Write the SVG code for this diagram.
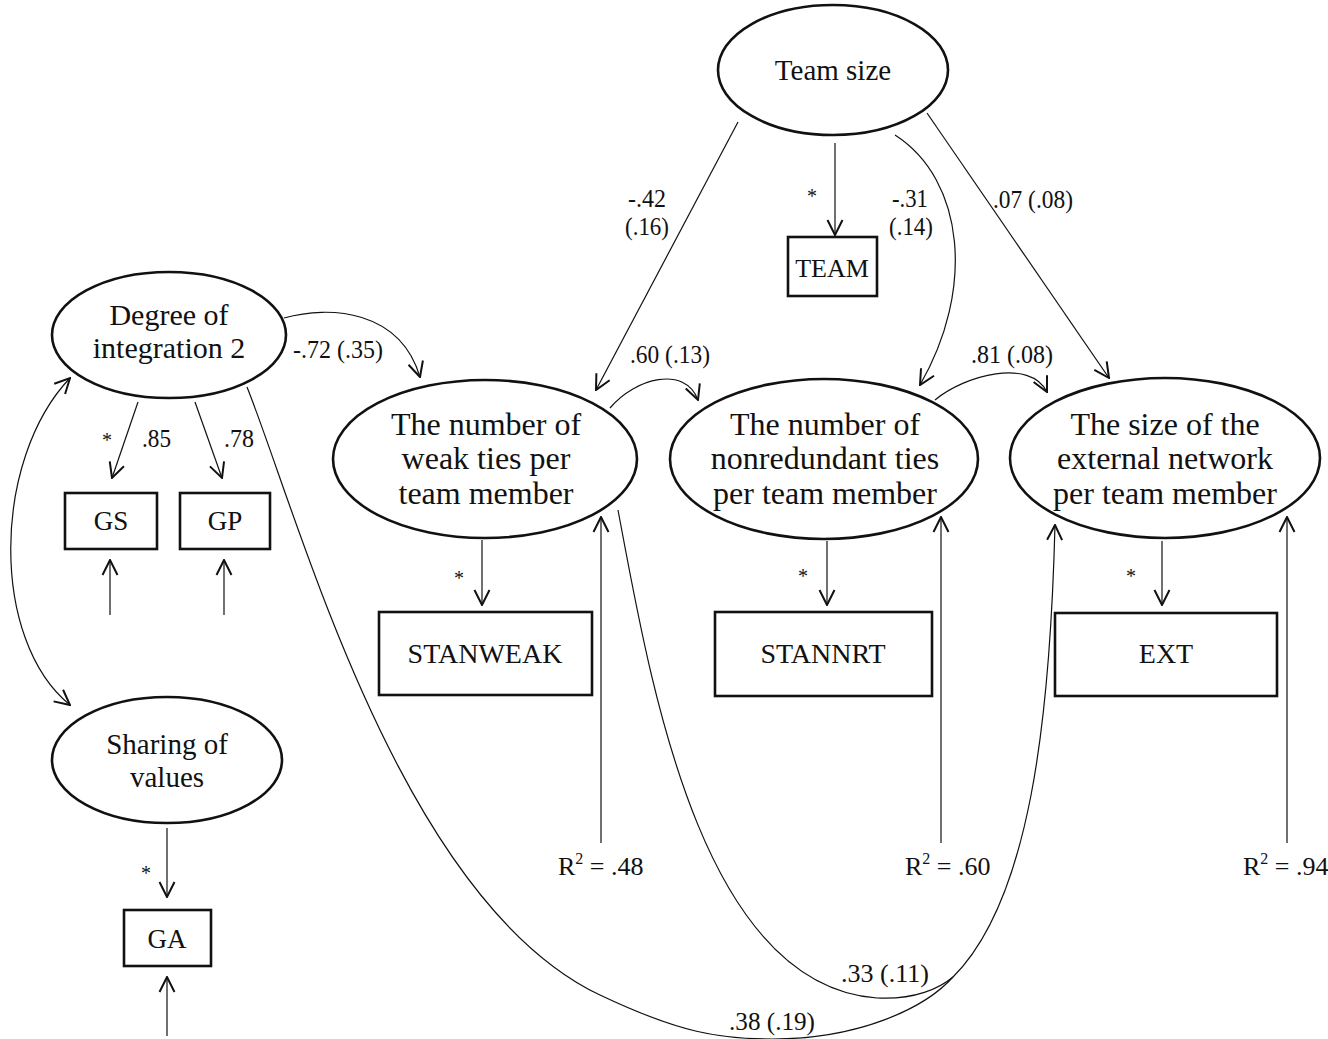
<svg xmlns="http://www.w3.org/2000/svg" width="1328" height="1039" viewBox="0 0 1328 1039">
<defs>
<style>
.nd{fill:#fff;stroke:#111;stroke-width:2.6}
.t{font-family:"Liberation Serif","Times New Roman",serif;fill:#111;text-anchor:middle}
.lab{font-family:"Liberation Serif","Times New Roman",serif;fill:#111;font-size:26px}
.ast{font-family:"Liberation Serif","Times New Roman",serif;fill:#111;font-size:20px;text-anchor:middle}
.c{fill:none;stroke:#111;stroke-width:1.2}
.a{marker-end:url(#ah)}
</style>
<marker id="ah" viewBox="0 0 18 18" refX="17" refY="9" markerWidth="18" markerHeight="18" markerUnits="userSpaceOnUse" orient="auto-start-reverse">
<path d="M2,1.5 L17,9 L2,16.5" fill="none" stroke="#111" stroke-width="2"/>
</marker>
</defs>
<rect width="1328" height="1039" fill="#fff"/>

<g id="connectors">
<path class="c a" d="M835,143 L835,235"/>
<path class="c a" d="M738,122 L596,390"/>
<path class="c a" d="M895,135 C965,180 975,290 920,385"/>
<path class="c a" d="M927,113 L1109,378"/>
<path class="c a" d="M284,318 C330,305 400,310 420,377"/>
<path class="c a" d="M610,408 C635,378 685,365 698,400"/>
<path class="c a" d="M935,400 C965,375 1030,358 1047,392"/>
<path class="c" d="M70,378 C-8,460 -10,640 70,705" marker-start="url(#ah)" marker-end="url(#ah)"/>
<path class="c a" d="M138,402 L112,478"/>
<path class="c a" d="M195,402 L222,478"/>
<path class="c a" d="M110,615 L110,560"/>
<path class="c a" d="M224,615 L224,560"/>
<path class="c a" d="M167,828 L167,897"/>
<path class="c a" d="M167,1036 L167,977"/>
<path class="c a" d="M482,540 L482,605"/>
<path class="c a" d="M827,541 L827,605"/>
<path class="c a" d="M1162,541 L1162,605"/>
<path class="c a" d="M601,843 L601,517"/>
<path class="c a" d="M941,843 L941,517"/>
<path class="c a" d="M1287,843 L1287,517"/>
<path class="c a" d="M247,387 C300,520 400,900 600,995 C680,1033 720,1039 772,1039 C860,1039 925,1008 953,977 C1030,900 1050,720 1055,525"/>
<path class="c" d="M618,510 C650,680 700,985 877,998 C915,1000 940,988 953,977"/>
</g>

<g id="labels">
<text class="lab" x="628" y="207" textLength="38" lengthAdjust="spacingAndGlyphs">-.42</text>
<text class="lab" x="625" y="235" textLength="44" lengthAdjust="spacingAndGlyphs">(.16)</text>
<text class="lab" x="892" y="207" textLength="36" lengthAdjust="spacingAndGlyphs">-.31</text>
<text class="lab" x="889" y="235" textLength="44" lengthAdjust="spacingAndGlyphs">(.14)</text>
<text class="lab" x="993" y="208" textLength="80" lengthAdjust="spacingAndGlyphs">.07 (.08)</text>
<text class="lab" x="293" y="358" textLength="90" lengthAdjust="spacingAndGlyphs">-.72 (.35)</text>
<text class="lab" x="630" y="363" textLength="80" lengthAdjust="spacingAndGlyphs">.60 (.13)</text>
<text class="lab" x="971" y="363" textLength="82" lengthAdjust="spacingAndGlyphs">.81 (.08)</text>
<text class="lab" x="142" y="447" textLength="29" lengthAdjust="spacingAndGlyphs">.85</text>
<text class="lab" x="224" y="447" textLength="30" lengthAdjust="spacingAndGlyphs">.78</text>
<text class="lab" x="841" y="982" textLength="88" lengthAdjust="spacingAndGlyphs">.33  (.11)</text>
<text class="lab" x="729" y="1030" textLength="86" lengthAdjust="spacingAndGlyphs">.38  (.19)</text>
<text class="lab" x="558" y="875">R<tspan dy="-11" font-size="16">2</tspan><tspan dy="11"> = .48</tspan></text>
<text class="lab" x="905" y="875">R<tspan dy="-11" font-size="16">2</tspan><tspan dy="11"> = .60</tspan></text>
<text class="lab" x="1243" y="875">R<tspan dy="-11" font-size="16">2</tspan><tspan dy="11"> = .94</tspan></text>
<text class="ast" x="812" y="203">*</text>
<text class="ast" x="107" y="447">*</text>
<text class="ast" x="459" y="585">*</text>
<text class="ast" x="803" y="583">*</text>
<text class="ast" x="1131" y="583">*</text>
<text class="ast" x="146" y="880">*</text>
</g>

<g id="n-teamsize">
<ellipse class="nd" cx="833" cy="70" rx="115" ry="65"/>
<text class="t" x="833" y="80" font-size="29">Team size</text>
</g>
<g id="n-TEAM">
<rect class="nd" x="788" y="237" width="89" height="59"/>
<text class="t" x="832" y="277" font-size="26">TEAM</text>
</g>
<g id="n-degree">
<ellipse class="nd" cx="169" cy="335" rx="117" ry="63"/>
<text class="t" x="169" y="325" font-size="30">Degree of</text>
<text class="t" x="169" y="358" font-size="30">integration 2</text>
</g>
<g id="n-GS">
<rect class="nd" x="65" y="493" width="92" height="56"/>
<text class="t" x="111" y="530" font-size="27">GS</text>
</g>
<g id="n-GP">
<rect class="nd" x="180" y="493" width="90" height="56"/>
<text class="t" x="225" y="530" font-size="27">GP</text>
</g>
<g id="n-sharing">
<ellipse class="nd" cx="167" cy="760" rx="115" ry="63"/>
<text class="t" x="167" y="754" font-size="29">Sharing of</text>
<text class="t" x="167" y="787" font-size="29">values</text>
</g>
<g id="n-GA">
<rect class="nd" x="124" y="910" width="87" height="56"/>
<text class="t" x="167" y="948" font-size="27">GA</text>
</g>
<g id="n-weak">
<ellipse class="nd" cx="485" cy="459" rx="152" ry="79"/>
<text class="t" x="486" y="435" font-size="32">The number of</text>
<text class="t" x="486" y="469" font-size="32">weak ties per</text>
<text class="t" x="486" y="504" font-size="32">team member</text>
</g>
<g id="n-nonred">
<ellipse class="nd" cx="824" cy="459" rx="154" ry="80"/>
<text class="t" x="825" y="435" font-size="32">The number of</text>
<text class="t" x="825" y="469" font-size="32">nonredundant ties</text>
<text class="t" x="825" y="504" font-size="32">per team member</text>
</g>
<g id="n-ext">
<ellipse class="nd" cx="1165" cy="458" rx="155" ry="80"/>
<text class="t" x="1165" y="435" font-size="32">The size of the</text>
<text class="t" x="1165" y="469" font-size="32">external network</text>
<text class="t" x="1165" y="504" font-size="32">per team member</text>
</g>
<g id="n-STANWEAK">
<rect class="nd" x="379" y="612" width="213" height="83"/>
<text class="t" x="485" y="663" font-size="28">STANWEAK</text>
</g>
<g id="n-STANNRT">
<rect class="nd" x="715" y="612" width="217" height="84"/>
<text class="t" x="823" y="663" font-size="28">STANNRT</text>
</g>
<g id="n-EXT">
<rect class="nd" x="1055" y="613" width="222" height="83"/>
<text class="t" x="1166" y="663" font-size="28">EXT</text>
</g>
</svg>
